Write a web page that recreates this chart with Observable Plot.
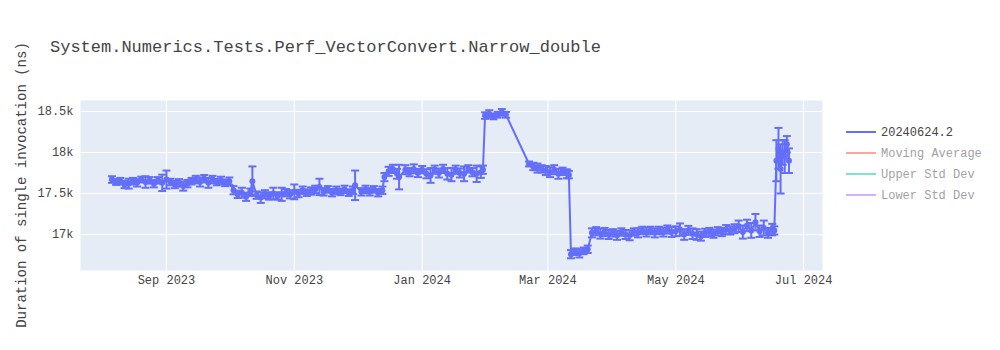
<!DOCTYPE html>
<html><head><meta charset="utf-8">
<script src="https://cdn.jsdelivr.net/npm/d3@7"></script>
<script src="https://cdn.jsdelivr.net/npm/@observablehq/plot@0.6"></script>
<style>body{margin:0;background:#fff} #chart{width:1000px;height:350px}</style>
</head><body><div id="chart"></div>
<script>
const title = "System.Numerics.Tests.Perf_VectorConvert.Narrow_double";
const yLabel = "Duration of single invocation (ns)";
const dates = [
"2023-08-06","2023-08-08","2023-08-10","2023-08-12","2023-08-14","2023-08-16","2023-08-18","2023-08-20","2023-08-22","2023-08-24",
"2023-08-26","2023-08-28","2023-08-30","2023-09-01","2023-09-03","2023-09-05","2023-09-07","2023-09-09","2023-09-11","2023-09-13",
"2023-09-15","2023-09-17","2023-09-19","2023-09-21","2023-09-23","2023-09-25","2023-09-27","2023-09-29","2023-10-01","2023-10-03",
"2023-10-05","2023-10-07","2023-10-09","2023-10-11","2023-10-12","2023-10-14","2023-10-16","2023-10-18","2023-10-20","2023-10-22",
"2023-10-24","2023-10-26","2023-10-28","2023-10-30","2023-11-01","2023-11-03","2023-11-05","2023-11-07","2023-11-09","2023-11-11",
"2023-11-13","2023-11-15","2023-11-17","2023-11-19","2023-11-21","2023-11-23","2023-11-25","2023-11-27","2023-11-29","2023-11-30",
"2023-12-03","2023-12-05","2023-12-07","2023-12-09","2023-12-11","2023-12-13","2023-12-14","2023-12-16","2023-12-18","2023-12-20",
"2023-12-21","2023-12-24","2023-12-26","2023-12-28","2023-12-30","2024-01-01","2024-01-03","2024-01-05","2024-01-07","2024-01-09",
"2024-01-11","2024-01-13","2024-01-15","2024-01-17","2024-01-19","2024-01-21","2024-01-23","2024-01-25","2024-01-27","2024-01-29",
"2024-01-30","2024-01-31","2024-02-02","2024-02-04","2024-02-06","2024-02-08","2024-02-10","2024-02-21","2024-02-23","2024-02-25",
"2024-02-27","2024-02-29","2024-03-02","2024-03-04","2024-03-06","2024-03-08","2024-03-10","2024-03-11","2024-03-12","2024-03-14",
"2024-03-16","2024-03-18","2024-03-20","2024-03-22","2024-03-24","2024-03-26","2024-03-28","2024-03-30","2024-04-01","2024-04-03",
"2024-04-05","2024-04-07","2024-04-09","2024-04-11","2024-04-13","2024-04-15","2024-04-17","2024-04-19","2024-04-21","2024-04-23",
"2024-04-25","2024-04-27","2024-04-29","2024-05-01","2024-05-03","2024-05-05","2024-05-07","2024-05-09","2024-05-11","2024-05-13",
"2024-05-15","2024-05-17","2024-05-19","2024-05-21","2024-05-23","2024-05-25","2024-05-27","2024-05-29","2024-05-31","2024-06-02",
"2024-06-04","2024-06-06","2024-06-08","2024-06-10","2024-06-12","2024-06-14","2024-06-16","2024-06-17","2024-06-18","2024-06-19",
"2024-06-20","2024-06-21","2024-06-22","2024-06-23","2024-06-24"
];
const means = [
17670,17640,17650,17610,17620,17650,17630,17670,17640,17660,
17620,17660,17630,17670,17640,17610,17630,17590,17620,17650,
17670,17640,17680,17630,17670,17640,17660,17630,17650,17540,
17490,17510,17460,17520,17650,17480,17450,17490,17470,17500,
17470,17490,17510,17490,17520,17500,17540,17510,17530,17550,
17580,17520,17550,17510,17540,17520,17550,17510,17540,17600,
17520,17550,17520,17550,17510,17540,17700,17770,17800,17740,
17700,17790,17760,17800,17750,17790,17740,17720,17790,17750,
17800,17740,17730,17790,17750,17740,17800,17760,17740,17760,
17790,18450,18470,18440,18460,18490,18460,17860,17830,17810,
17800,17780,17760,17790,17740,17770,17740,17730,16760,16790,
16770,16800,16820,17020,17040,17010,17030,17000,17020,16990,
17030,17000,16990,17030,17020,17050,17030,17050,17020,17050,
17030,17060,17030,17040,17060,17000,17050,17010,17000,16980,
17020,17030,17010,17040,17030,17060,17050,17070,17100,17030,
17110,17050,17150,17040,17080,17020,17060,17050,17900,18050,
17800,18000,17950,18100,17900
];
const errs = [
40,35,40,45,60,40,45,35,70,40,
45,40,100,110,40,45,45,55,45,40,
45,55,45,60,45,40,45,40,45,50,
45,60,50,40,180,45,65,50,45,70,
45,80,45,50,90,45,45,40,45,45,
100,45,40,45,45,40,45,40,45,180,
45,45,45,40,45,45,50,55,50,60,
150,55,50,55,50,45,55,90,50,55,
50,70,80,50,55,90,45,50,100,70,
50,40,45,35,35,40,35,30,45,55,
45,55,60,55,60,45,55,45,50,40,
50,40,45,55,50,60,50,55,45,55,
45,55,60,45,55,45,55,45,55,45,
55,50,60,60,75,65,55,65,65,55,
50,50,50,50,50,55,50,55,70,80,
70,90,100,70,90,60,70,50,250,250,
300,150,200,100,150
];
const xTicks = ["2023-09-01","2023-11-01","2024-01-01","2024-03-01","2024-05-01","2024-07-01"];
const yTicks = [17000, 17500, 18000, 18500];
const yTickLabels = ["17k", "17.5k", "18k", "18.5k"];
const legendNames = ["20240624.2", "Moving Average", "Upper Std Dev", "Lower Std Dev"];
const legendColors = ["#636efa", "#EF553B", "#00cc96", "#ab63fa"];
const legendActive = [true, false, false, false];

const rows = dates.map((d, i) => ({date: new Date(d), mean: means[i], lo: means[i] - errs[i], hi: means[i] + errs[i]}));
const xTickDates = xTicks.map(d => new Date(d));
const color = legendColors[0];
const cap = {draw(ctx) { ctx.moveTo(-4, 0); ctx.lineTo(4, 0); }};
const font = "'Liberation Mono', 'Courier New', monospace";

const chart = Plot.plot({
  width: 1000, height: 350,
  marginLeft: 80, marginRight: 178, marginTop: 100, marginBottom: 80,
  style: {fontFamily: font, fontSize: "12px", color: "#444", background: "white"},
  x: {type: "utc", domain: [new Date("2023-07-22"), new Date("2024-07-10")]},
  y: {domain: [16561, 18634]},
  marks: [
    Plot.frame({fill: "#e5ecf6", stroke: "none"}),
    Plot.gridX(xTickDates, {stroke: "white", strokeOpacity: 1, strokeWidth: 1}),
    Plot.gridY(yTicks, {stroke: "white", strokeOpacity: 1, strokeWidth: 1}),
    Plot.ruleX(rows, {x: "date", y1: "lo", y2: "hi", stroke: color, strokeWidth: 2}),
    Plot.dot(rows, {x: "date", y: "hi", symbol: cap, stroke: color, fill: "none", strokeWidth: 2}),
    Plot.dot(rows, {x: "date", y: "lo", symbol: cap, stroke: color, fill: "none", strokeWidth: 2}),
    Plot.line(rows, {x: "date", y: "mean", stroke: color, strokeWidth: 2}),
    Plot.dot(rows, {x: "date", y: "mean", r: 3, fill: color, stroke: "none"}),
    Plot.axisX(xTickDates, {tickSize: 0, tickPadding: 5, tickFormat: d3.utcFormat("%b %Y"), label: null, fill: "#444"}),
    Plot.axisY(yTicks, {tickSize: 0, tickPadding: 7, tickFormat: d => yTickLabels[yTicks.indexOf(d)], label: null, fill: "#444"})
  ]
});
document.getElementById("chart").appendChild(chart);

const svg = d3.select(chart);
svg.append("text").attr("x", 50).attr("y", 52).attr("font-size", 17).attr("fill", "#444")
  .attr("text-anchor", "start").attr("font-family", font).text(title);
svg.append("text").attr("transform", "translate(26,185) rotate(-90)").attr("text-anchor", "middle")
  .attr("font-size", 14).attr("fill", "#444").attr("font-family", font).text(yLabel);
legendNames.forEach((name, i) => {
  const cy = 132 + i * 21;
  const g = svg.append("g").attr("opacity", legendActive[i] ? 1 : 0.5);
  g.append("line").attr("x1", 846).attr("x2", 876).attr("y1", cy).attr("y2", cy)
    .attr("stroke", legendColors[i]).attr("stroke-width", 2);
  g.append("text").attr("x", 881).attr("y", cy + 4).attr("font-size", 12).attr("fill", "#444")
    .attr("text-anchor", "start").attr("font-family", font).text(name);
});
</script>
</body></html>
